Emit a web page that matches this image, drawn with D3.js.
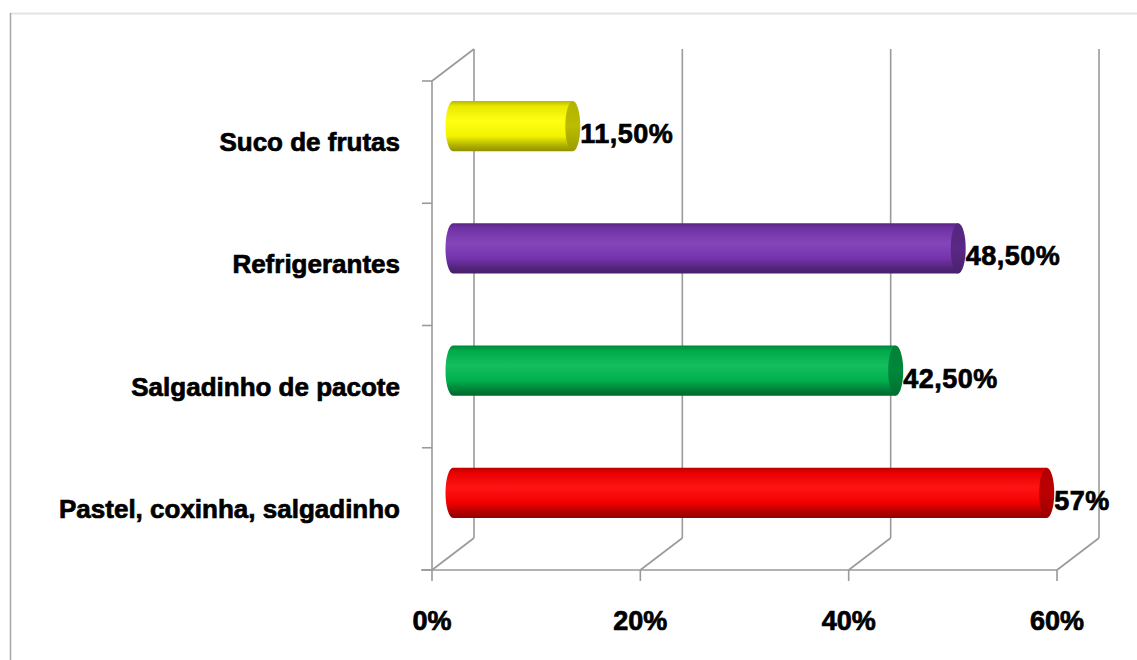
<!DOCTYPE html>
<html>
<head>
<meta charset="utf-8">
<script src="https://cdn.jsdelivr.net/npm/d3@7"></script>
<style>
  html, body { margin: 0; padding: 0; background: #ffffff; }
  svg { display: block; }
  text { font-family: "Liberation Sans", Arial, sans-serif; font-weight: bold; fill: #000; }
  .heavy { stroke: #000; stroke-width: 0.7px; }
</style>
</head>
<body>
<svg id="chart" width="1137" height="660"></svg>
<script>
// Categories, top to bottom
const categories = ["Suco de frutas", "Refrigerantes", "Salgadinho de pacote", "Pastel, coxinha, salgadinho"];
// Share of each item (fraction)
const values = [0.115, 0.485, 0.425, 0.57];
// Label printed next to each bar
const valueLabels = ["11,50%", "48,50%", "42,50%", "57%"];
// Bar colours
const colors = ["#ffff00", "#7a36b4", "#00b850", "#ff0000"];
// Value axis ticks
const tickValues = [0, 0.2, 0.4, 0.6];
const tickLabels = ["0%", "20%", "40%", "60%"];

const svg = d3.select("#chart");

// Outer frame of the chart object
svg.append("line").attr("x1", 10).attr("x2", 1137).attr("y1", 13.5).attr("y2", 13.5)
  .attr("stroke", "#e3e3e3").attr("stroke-width", 2);
svg.append("line").attr("x1", 10.5).attr("x2", 10.5).attr("y1", 13).attr("y2", 660)
  .attr("stroke", "#a6a6a6").attr("stroke-width", 1.5);

// Fragment of the preceding text line, cut at the top edge
svg.append("text").attr("x", 169).attr("y", -3).style("font-weight", "normal")
  .style("font-size", "16px").style("fill", "#333").text(",");
svg.append("text").attr("x", 230).attr("y", -3).style("font-weight", "normal")
  .style("font-size", "16px").style("fill", "#333").text(",");

// 3D projection: front plane plus a depth offset
const depth = { dx: 42, dy: -32 };
const x = d3.scaleLinear().domain([0, 0.6]).range([432, 1057]);
const y = d3.scaleBand().domain(categories).range([81, 570]).padding(0);

const grid = svg.append("g").attr("stroke", "#9a9a9a").attr("stroke-width", 1.6).attr("fill", "none");
const yTop = y.range()[0], yBot = y.range()[1];

// Back-wall gridlines
tickValues.forEach(v => {
  grid.append("line")
    .attr("x1", x(v) + depth.dx).attr("x2", x(v) + depth.dx)
    .attr("y1", yTop + depth.dy).attr("y2", yBot + depth.dy);
});
// Floor: diagonals from the front edge to the back wall
tickValues.forEach(v => {
  grid.append("line")
    .attr("x1", x(v)).attr("y1", yBot)
    .attr("x2", x(v) + depth.dx).attr("y2", yBot + depth.dy);
});
// Left wall: front edge and top edge
grid.append("line").attr("x1", x(0)).attr("x2", x(0)).attr("y1", yTop).attr("y2", yBot);
grid.append("line").attr("x1", x(0)).attr("y1", yTop)
  .attr("x2", x(0) + depth.dx).attr("y2", yTop + depth.dy);
// Floor front edge
grid.append("line").attr("x1", x(0) - 11).attr("x2", x(0.6)).attr("y1", yBot).attr("y2", yBot);

// Category tick marks on the left wall
const catTicks = categories.map(c => y(c)).concat([yBot]);
catTicks.forEach(t => {
  grid.append("line").attr("x1", x(0) - 10).attr("x2", x(0)).attr("y1", t).attr("y2", t);
});
// Value tick marks under the floor
tickValues.forEach(v => {
  grid.append("line").attr("x1", x(v)).attr("x2", x(v)).attr("y1", yBot).attr("y2", yBot + 11);
});

// Value axis labels
svg.append("g").selectAll("text").data(tickValues).join("text")
  .attr("class", "heavy")
  .attr("x", d => x(d)).attr("y", 630)
  .attr("text-anchor", "middle")
  .style("font-size", "27px")
  .text((d, i) => tickLabels[i]);

// Category labels
svg.append("g").selectAll("text").data(categories).join("text")
  .attr("class", "heavy")
  .attr("x", 400).attr("y", d => y(d) + y.bandwidth() / 2 + 9)
  .attr("text-anchor", "end")
  .style("font-size", "26px")
  .text(d => d);

// Cylinder gradients
const defs = svg.append("defs");
function shade(c, k) {
  const col = d3.rgb(c);
  return k >= 0 ? d3.interpolateRgb(col, "#ffffff")(k) : col.darker(-k).formatHex();
}
colors.forEach((c, i) => {
  const g = defs.append("linearGradient").attr("id", "body" + i)
    .attr("x1", 0).attr("x2", 0).attr("y1", 0).attr("y2", 1);
  [[0, shade(c, -0.9)], [0.1, shade(c, -0.25)], [0.4, shade(c, 0.08)],
   [0.7, shade(c, -0.15)], [0.9, shade(c, -1.1)], [1, shade(c, -1.6)]]
    .forEach(([o, col]) => g.append("stop").attr("offset", o).attr("stop-color", col));
  const e = defs.append("linearGradient").attr("id", "cap" + i)
    .attr("x1", 0).attr("x2", 0).attr("y1", 0).attr("y2", 1);
  [[0, shade(c, -1.0)], [0.5, shade(c, -0.85)], [1, shade(c, -1.4)]]
    .forEach(([o, col]) => e.append("stop").attr("offset", o).attr("stop-color", col));
});

// Bars: horizontal cylinders placed at mid depth
const barH = y.bandwidth() * 0.41;
const rx = 7.5;
const bars = svg.append("g");
categories.forEach((c, i) => {
  const cy = y(c) + y.bandwidth() / 2 + depth.dy / 2;
  const x0 = x(0) + depth.dx / 2;
  const x1 = x(values[i]) + depth.dx / 2;
  const ry = barH / 2;
  const p = d3.path();
  p.moveTo(x0, cy - ry);
  p.lineTo(x1, cy - ry);
  p.lineTo(x1, cy + ry);
  p.lineTo(x0, cy + ry);
  bars.append("path")
    .attr("d", p.toString() + ` A ${rx} ${ry} 0 0 1 ${x0} ${cy - ry} Z`)
    .attr("fill", `url(#body${i})`);
  bars.append("ellipse")
    .attr("cx", x1).attr("cy", cy).attr("rx", rx).attr("ry", ry)
    .attr("fill", `url(#cap${i})`);
  bars.append("text")
    .attr("class", "heavy")
    .attr("x", x1 + rx).attr("y", cy + 17)
    .style("font-size", "27px")
    .style("letter-spacing", "0.5px")
    .text(valueLabels[i]);
});
</script>
</body>
</html>
